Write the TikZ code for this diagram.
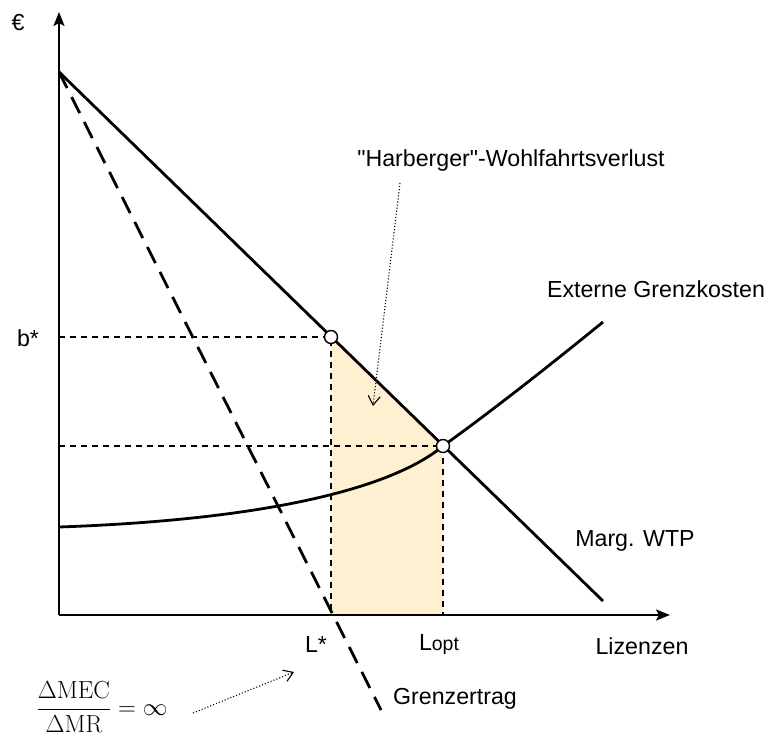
\documentclass[tikz,border=0pt]{standalone}
\usepackage{amsmath}
\usepackage[no-math]{fontspec}
\setmainfont{Liberation Sans}[Ligatures=TeXOff]
\usetikzlibrary{arrows.meta}
\definecolor{areafill}{HTML}{FFF0D2}
\tikzset{
  lbl/.style={font=\fontsize{23.2}{27}\selectfont, inner sep=0pt},
  thick line/.style={line width=2.8pt},
  axisline/.style={line width=1.8pt, -{Stealth[length=14pt,width=11pt,inset=3pt]}},
  helper/.style={line width=1.3pt, dash pattern=on 6pt off 5pt},
  markpt/.style={circle, draw, fill=white, line width=1.4pt, minimum size=13pt, inner sep=0pt},
  pointer/.style={line width=1.1pt, dotted, -{Straight Barb[length=9pt,width=12pt,line width=1.1pt]}}
}
\begin{document}
\begin{tikzpicture}[x=1pt,y=-1pt]
\useasboundingbox (0,0) rectangle (768,738);
% coordinates
\coordinate (O) at (59,615);
\coordinate (ytip) at (59,12);
\coordinate (xtip) at (670,615);
\coordinate (A) at (59,72);
\coordinate (Wend) at (603,601);
\coordinate (Gend) at (381,710);
\coordinate (P1) at (331,337);
\coordinate (P2) at (443,446);
\coordinate (Cstart) at (59,527);
\coordinate (Cend) at (603,322);
\coordinate (yb) at (59,337);
\coordinate (yq) at (59,446);
\coordinate (xL) at (331,615);
\coordinate (xLopt) at (443,615);
% shaded area
\fill[areafill] (P1) -- (xL) -- (xLopt) -- (P2) -- cycle;
% helper lines
\draw[helper] (yb) -- (P1) -- (xL);
\draw[helper] (yq) -- (P2) -- (xLopt);
% curves
\draw[thick line, dash pattern=on 18pt off 10pt] (A) -- (Gend);
\draw[thick line] (A) -- (Wend);
\draw[thick line] (Cstart) .. controls (260,520) and (390,490) .. (P2)
                  .. controls (500,405) and (560,357) .. (Cend);
% axes
\draw[axisline] (O) -- (ytip);
\draw[axisline] (O) -- (xtip);
% points
\node[markpt] (m1) at (P1) {};
\node[markpt] (m2) at (P2) {};
% labels
\node[lbl] (euro) at (18,23) {€};
\node[lbl] (bstar) at (28,338) {b*};
\node[lbl] (Lstar) at (316,645) {L*};
\node[lbl] (Lopt) at (439,645) {L\fontsize{19.5}{22}\selectfont opt};
\node[lbl] (liz) at (642,646) {Lizenzen};
\node[lbl] (ext) at (656,289) {Externe Grenzkosten};
\node[lbl] (wtp) at (635,541) {Marg. WTP};
\node[lbl] (gert) at (455,699) {Grenzertrag};
\node[lbl] (harb) at (511,161) {"Harberger"-Wohlfahrtsverlust};
\node[inner sep=0pt, font=\fontsize{20.74}{24}\selectfont] (frac) at (102,707) {\scalebox{1.19}{$\dfrac{\Delta\mathrm{MEC}}{\Delta\mathrm{MR}}=\infty$}};
\coordinate (h1) at (400,183);
\coordinate (h2) at (373,406);
\coordinate (f1) at (193,713);
\coordinate (f2) at (294,672);
\draw[pointer] (h1) -- (h2);
\draw[pointer] (f1) -- (f2);
\end{tikzpicture}
\end{document}
